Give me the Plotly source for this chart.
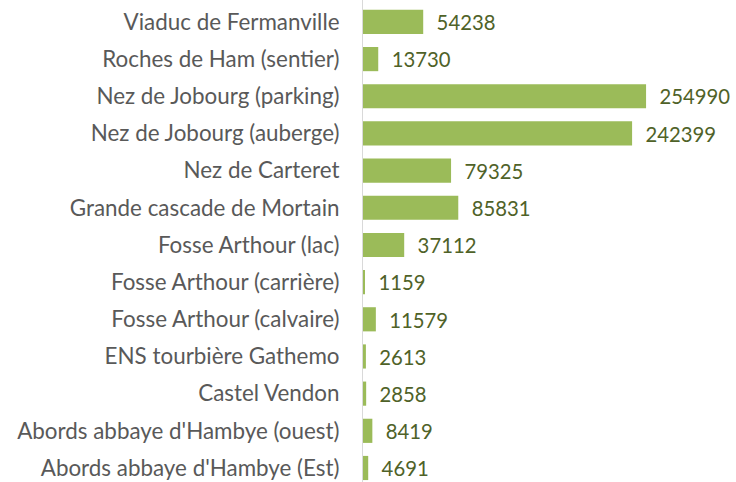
import plotly.graph_objects as go

categories = ["Viaduc de Fermanville", "Roches de Ham (sentier)", "Nez de Jobourg (parking)",
              "Nez de Jobourg (auberge)", "Nez de Carteret", "Grande cascade de Mortain",
              "Fosse Arthour (lac)", "Fosse Arthour (carrière)", "Fosse Arthour (calvaire)",
              "ENS tourbière Gathemo", "Castel Vendon", "Abords abbaye d'Hambye (ouest)",
              "Abords abbaye d'Hambye (Est)"]
values = [54238, 13730, 254990, 242399, 79325, 85831, 37112, 1159, 11579, 2613, 2858, 8419, 4691]

cats = categories[::-1]
vals = values[::-1]

fig = go.Figure(go.Bar(
    y=cats, x=vals, orientation="h",
    marker=dict(color="#9BBB59", line=dict(width=0)),
    text=["\u00a0\u00a0" + str(v) for v in vals],
    textposition="outside",
    textfont=dict(family="Lato", size=21, color="#4F6228"),
    cliponaxis=False,
    width=0.65,
))

fig.update_layout(
    width=736, height=482,
    margin=dict(l=363, r=0, t=0, b=0),
    paper_bgcolor="white", plot_bgcolor="white",
    showlegend=False,
    xaxis=dict(range=[0, 336000], visible=False),
    yaxis=dict(range=[-0.377, 12.59], showline=True, linecolor="#D9D9D9", linewidth=1,
               tickfont=dict(family="Lato", size=22.4, color="#595959"),
               ticks="", ticklabelstandoff=18, showgrid=False),
)
fig.write_html("out.html")
